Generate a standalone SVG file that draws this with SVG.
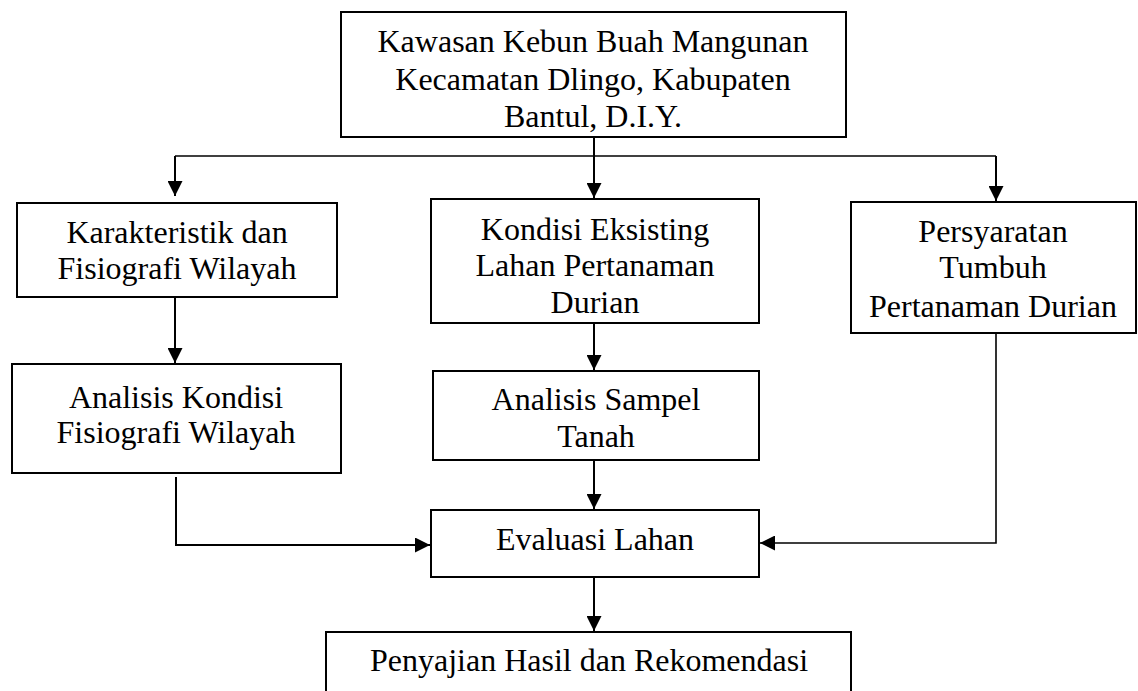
<svg xmlns="http://www.w3.org/2000/svg" width="1138" height="691" viewBox="0 0 1138 691">
<style>
.box{fill:#fff;stroke:#000;stroke-width:2}
.t{font-family:"Liberation Serif","Times New Roman",serif;font-size:32px;fill:#000;text-anchor:middle}
.c{fill:none;stroke:#000;stroke-width:2}
.thin{fill:none;stroke:#000;stroke-width:1.6}
</style>
<defs>
<marker id="ah" markerUnits="userSpaceOnUse" markerWidth="15" markerHeight="15" refX="15" refY="7.5" orient="auto">
<path d="M0,0 L15,7.5 L0,15 z" fill="#000"/>
</marker>
</defs>
<rect width="1138" height="691" fill="#fff"/>
<g id="connectors">
<path class="thin" d="M175,156 H996"/>
<path class="c" d="M175,156 V196" marker-end="url(#ah)"/>
<path class="c" d="M594,137 V198" marker-end="url(#ah)"/>
<path class="c" d="M996,156 V201" marker-end="url(#ah)"/>
<path class="c" d="M175,297 V363" marker-end="url(#ah)"/>
<path class="c" d="M594,323 V370" marker-end="url(#ah)"/>
<path class="c" d="M594,460 V509" marker-end="url(#ah)"/>
<path class="c" d="M176,477 V545 H430" marker-end="url(#ah)"/>
<path class="thin" d="M996,333 V543 H760" marker-end="url(#ah)"/>
<path class="c" d="M594,577 V631" marker-end="url(#ah)"/>
</g>
<g id="n-kawasan">
<rect class="box" x="341" y="12" width="505" height="125"/>
<text class="t" x="593" y="52">Kawasan Kebun Buah Mangunan</text>
<text class="t" x="593" y="90">Kecamatan Dlingo, Kabupaten</text>
<text class="t" x="593" y="127">Bantul, D.I.Y.</text>
</g>
<g id="n-karakteristik">
<rect class="box" x="17" y="203" width="320" height="94"/>
<text class="t" x="177" y="243">Karakteristik dan</text>
<text class="t" x="177" y="279">Fisiografi Wilayah</text>
</g>
<g id="n-analisis-kondisi">
<rect class="box" x="12" y="364" width="329" height="109"/>
<text class="t" x="176" y="408">Analisis Kondisi</text>
<text class="t" x="176" y="443">Fisiografi Wilayah</text>
</g>
<g id="n-kondisi">
<rect class="box" x="431" y="199" width="328" height="124"/>
<text class="t" x="595" y="240">Kondisi Eksisting</text>
<text class="t" x="595" y="276">Lahan Pertanaman</text>
<text class="t" x="595" y="313">Durian</text>
</g>
<g id="n-analisis-sampel">
<rect class="box" x="433" y="371" width="326" height="89"/>
<text class="t" x="596" y="410">Analisis Sampel</text>
<text class="t" x="596" y="447">Tanah</text>
</g>
<g id="n-persyaratan">
<rect class="box" x="851" y="202" width="285" height="131"/>
<text class="t" x="993" y="242">Persyaratan</text>
<text class="t" x="993" y="278">Tumbuh</text>
<text class="t" x="993" y="317">Pertanaman Durian</text>
</g>
<g id="n-evaluasi">
<rect class="box" x="431" y="510" width="328" height="67"/>
<text class="t" x="595" y="550">Evaluasi Lahan</text>
</g>
<g id="n-penyajian">
<rect class="box" x="326" y="632" width="525" height="70"/>
<text class="t" x="589" y="671">Penyajian Hasil dan Rekomendasi</text>
</g>
</svg>
